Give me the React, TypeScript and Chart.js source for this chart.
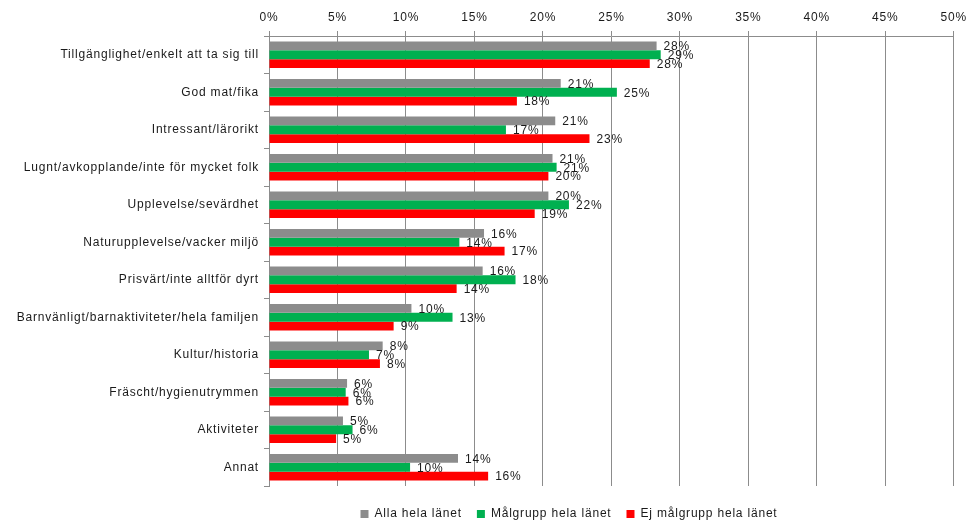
import React, { useEffect, useRef } from "react";
import { Chart, registerables } from "chart.js";

Chart.register(...registerables);

const categories = [
  "Tillgänglighet/enkelt att ta sig till",
  "God mat/fika",
  "Intressant/lärorikt",
  "Lugnt/avkopplande/inte för mycket folk",
  "Upplevelse/sevärdhet",
  "Naturupplevelse/vacker miljö",
  "Prisvärt/inte alltför dyrt",
  "Barnvänligt/barnaktiviteter/hela familjen",
  "Kultur/historia",
  "Fräscht/hygienutrymmen",
  "Aktiviteter",
  "Annat",
];

const allaValues = [28.3, 21.3, 20.9, 20.7, 20.4, 15.7, 15.6, 10.4, 8.3, 5.7, 5.4, 13.8];
const malgruppValues = [28.6, 25.4, 17.3, 21.0, 21.9, 13.9, 18.0, 13.4, 7.3, 5.6, 6.1, 10.3];
const ejMalgruppValues = [27.8, 18.1, 23.4, 20.4, 19.4, 17.2, 13.7, 9.1, 8.1, 5.8, 4.9, 16.0];

const seriesNames = ["Alla hela länet", "Målgrupp hela länet", "Ej målgrupp hela länet"];
const seriesColors = ["#8c8c8c", "#00b050", "#ff0000"];

const FONT = "'Liberation Sans', Arial, sans-serif";
const SPACING = "0.8px";

const spacingPlugin = {
  id: "letterSpacing",
  beforeUpdate(chart: any) {
    chart.ctx.letterSpacing = SPACING;
  },
  beforeLayout(chart: any) {
    chart.ctx.letterSpacing = SPACING;
  },
  afterLayout(chart: any) {
    const lg = chart.legend;
    if (lg) {
      lg.left = 178;
      lg.right = 960;
      lg.width = 782;
      lg.top += 7;
      lg.bottom += 7;
    }
  },
  beforeDraw(chart: any) {
    chart.ctx.letterSpacing = SPACING;
  },
};

const valueLabelPlugin = {
  id: "valueLabels",
  afterDatasetsDraw(chart: any) {
    const ctx = chart.ctx;
    ctx.save();
    ctx.letterSpacing = SPACING;
    ctx.font = `12px ${FONT}`;
    ctx.fillStyle = "#1a1a1a";
    ctx.textAlign = "left";
    ctx.textBaseline = "middle";
    chart.data.datasets.forEach((ds: any, di: number) => {
      const meta = chart.getDatasetMeta(di);
      meta.data.forEach((el: any, i: number) => {
        const v = ds.data[i];
        ctx.fillText(Math.round(v) + "%", el.x + 7, el.y + 1);
      });
    });
    ctx.restore();
  },
};

export default function App() {
  const ref = useRef<HTMLCanvasElement>(null);
  useEffect(() => {
    if (!ref.current) return;
    const chart = new Chart(ref.current, {
      type: "bar",
      data: {
        labels: categories,
        datasets: [
          { label: seriesNames[0], data: allaValues, backgroundColor: seriesColors[0] },
          { label: seriesNames[1], data: malgruppValues, backgroundColor: seriesColors[1] },
          { label: seriesNames[2], data: ejMalgruppValues, backgroundColor: seriesColors[2] },
        ],
      },
      options: {
        indexAxis: "y",
        animation: false,
        responsive: true,
        maintainAspectRatio: false,
        datasets: { bar: { categoryPercentage: 0.71, barPercentage: 1.0 } },
        layout: { padding: { left: 0, right: 13, top: 0, bottom: 0 } },
        scales: {
          x: {
            position: "top",
            min: 0,
            max: 50,
            ticks: {
              stepSize: 5,
              callback: (v: any) => v + "%",
              font: { family: FONT, size: 12 },
              color: "#1a1a1a",
              padding: 6,
            },
            grid: { color: "#8c8c8c", lineWidth: 1, tickLength: 5 },
            border: { color: "#8c8c8c" },
            afterFit: (s: any) => {
              s.height = 36;
            },
          },
          y: {
            ticks: {
              font: { family: FONT, size: 12 },
              color: "#1a1a1a",
              padding: 5,
              autoSkip: false,
            },
            grid: { drawOnChartArea: false, color: "#8c8c8c", tickLength: 5 },
            border: { color: "#8c8c8c" },
            afterFit: (s: any) => {
              s.width = 269;
            },
          },
        },
        plugins: {
          legend: {
            position: "bottom",
            labels: {
              boxWidth: 8,
              boxHeight: 8,
              padding: 15,
              font: { family: FONT, size: 12 },
              color: "#1a1a1a",
            },
          },
          tooltip: { enabled: false },
        },
      },
      plugins: [spacingPlugin, valueLabelPlugin],
    });
    return () => chart.destroy();
  }, []);
  return (
    <div style={{ position: "fixed", left: 0, top: 0, width: 973, height: 523, background: "#fff" }}>
      <canvas ref={ref} />
    </div>
  );
}
